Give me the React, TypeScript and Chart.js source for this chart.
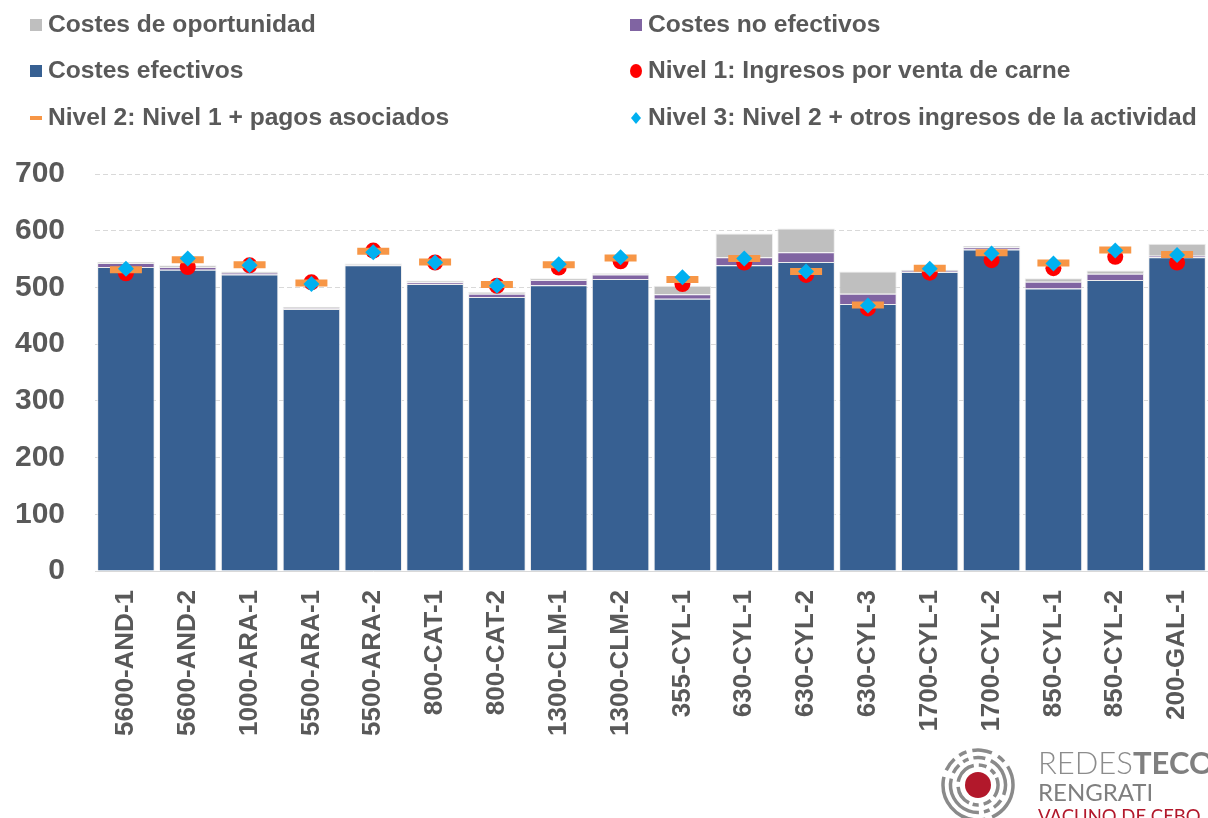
import React, { useEffect, useRef } from 'react';
import { Chart, registerables } from 'chart.js';

Chart.register(...registerables);

const categories = [
  '5600-AND-1', '5600-AND-2', '1000-ARA-1', '5500-ARA-1', '5500-ARA-2', '800-CAT-1',
  '800-CAT-2', '1300-CLM-1', '1300-CLM-2', '355-CYL-1', '630-CYL-1', '630-CYL-2',
  '630-CYL-3', '1700-CYL-1', '1700-CYL-2', '850-CYL-1', '850-CYL-2', '200-GAL-1',
];
const costesEfectivos = [536, 531, 523, 462, 539, 506, 483, 504, 515, 480, 539, 545, 471, 527, 567, 498, 513, 553];
const costesNoEfectivos = [7, 5, 3, 1, 1, 3, 6, 9, 8, 8, 14, 17, 18, 2, 4, 12, 11, 3];
const costesOportunidad = [2, 3, 2, 3, 2, 3, 3, 3, 2, 15, 42, 42, 39, 2, 2, 6, 6, 21];
const nivel1 = [525, 536, 539, 509, 565, 544, 503, 535, 546, 506, 544, 522, 463, 526, 548, 534, 554, 544];
const nivel2 = [531, 549, 540, 508, 564, 545, 505, 540, 552, 514, 551, 528, 469, 534, 561, 543, 566, 558];
const nivel3 = [533, 551, 539, 506, 562, 544, 503, 541, 553, 518, 551, 528, 468, 533, 560, 542, 565, 557];

const legendLabels = [
  'Costes de oportunidad',
  'Costes no efectivos',
  'Costes efectivos',
  'Nivel 1: Ingresos por venta de carne',
  'Nivel 2: Nivel 1 + pagos asociados',
  'Nivel 3: Nivel 2 + otros ingresos de la actividad',
];

const FONT = "'Liberation Sans', Arial, sans-serif";
const TEXT = '#595959';
const C_BLUE = '#376092';
const C_PURPLE = '#8064A2';
const C_GRAY = '#BFBFBF';
const C_RED = '#FF0000';
const C_ORANGE = '#F79646';
const C_CYAN = '#00B0F0';

function Marker({ kind }: { kind: string }) {
  const base: React.CSSProperties = { position: 'absolute' };
  if (kind === 'gray') return <div style={{ ...base, left: 0, top: 9, width: 12, height: 12, background: C_GRAY }} />;
  if (kind === 'purple') return <div style={{ ...base, left: 0, top: 9, width: 12, height: 12, background: C_PURPLE }} />;
  if (kind === 'blue') return <div style={{ ...base, left: 0, top: 9, width: 12, height: 12, background: C_BLUE }} />;
  if (kind === 'red') return <div style={{ ...base, left: 0, top: 8, width: 12, height: 14, borderRadius: '50%', background: C_RED }} />;
  if (kind === 'orange') return <div style={{ ...base, left: 0, top: 13, width: 12, height: 4, background: C_ORANGE }} />;
  return <div style={{ ...base, left: 1, top: 9, width: 10, height: 12, background: C_CYAN, clipPath: 'polygon(50% 0, 100% 50%, 50% 100%, 0 50%)' }} />;
}

function LegendItem({ x, yc, kind, label }: { x: number; yc: number; kind: string; label: string }) {
  return (
    <div style={{ position: 'absolute', left: x, top: yc - 15, height: 30, whiteSpace: 'nowrap' }}>
      <Marker kind={kind} />
      <span style={{ position: 'absolute', left: 18, top: 0, lineHeight: '30px', font: `bold 24.6px ${FONT}`, color: TEXT }}>{label}</span>
    </div>
  );
}

function Logo() {
  const cx = 48, cy = 45;
  const ring = (r: number, dash: string, w: number, rot: number) => (
    <circle cx={cx} cy={cy} r={r} fill="none" stroke="#8a8a8a" strokeWidth={w} strokeDasharray={dash} transform={`rotate(${rot} ${cx} ${cy})`} />
  );
  return (
    <div style={{ position: 'absolute', left: 930, top: 740, width: 278, height: 78, overflow: 'hidden' }}>
      <svg width={90} height={78} style={{ position: 'absolute', left: 0, top: 0 }}>
        <circle cx={cx} cy={cy} r={13} fill="#B2182B" />
        {ring(20, '20 5 8 5 6 4', 3.5, 200)}
        {ring(27.5, '40 6 10 5 6 5 12 6', 3.5, 110)}
        {ring(35, '60 7 14 6 8 6 20 7 8 6', 3.5, 95)}
      </svg>
      <div style={{ position: 'absolute', left: 108, top: 5, font: `300 31px Lato, 'Open Sans', sans-serif`, color: '#8c8c8c', lineHeight: '34px', whiteSpace: 'nowrap' }}>
        REDES<span style={{ fontWeight: 700, color: '#7f7f7f' }}>TECO</span>
      </div>
      <div style={{ position: 'absolute', left: 108, top: 39, font: `400 24px Lato, 'Open Sans', sans-serif`, color: '#7f7f7f', lineHeight: '26px', whiteSpace: 'nowrap' }}>
        RENGRATI
      </div>
      <div style={{ position: 'absolute', left: 108, top: 64, font: `400 18.5px Lato, 'Open Sans', sans-serif`, color: '#B2182B', lineHeight: '24px', whiteSpace: 'nowrap' }}>
        VACUNO DE CEBO
      </div>
    </div>
  );
}

export default function App() {
  const ref = useRef<HTMLCanvasElement>(null);
  useEffect(() => {
    const chart = new Chart(ref.current!, {
      type: 'bar',
      data: {
        labels: categories,
        datasets: [
          { label: legendLabels[2], data: costesEfectivos, backgroundColor: C_BLUE, borderColor: 'rgba(235,235,235,0.9)', borderWidth: 1, order: 4, barPercentage: 0.93, categoryPercentage: 1 } as any,
          { label: legendLabels[1], data: costesNoEfectivos, backgroundColor: C_PURPLE, borderColor: 'rgba(235,235,235,0.9)', borderWidth: 1, order: 4, barPercentage: 0.93, categoryPercentage: 1 } as any,
          { label: legendLabels[0], data: costesOportunidad, backgroundColor: C_GRAY, borderColor: 'rgba(235,235,235,0.9)', borderWidth: 1, order: 4, barPercentage: 0.93, categoryPercentage: 1 } as any,
          { type: 'line', label: legendLabels[3], data: nivel1, stack: 'n1', order: 3, showLine: false, pointStyle: 'circle', pointRadius: 8, pointBackgroundColor: C_RED, pointBorderColor: C_RED, pointBorderWidth: 0 } as any,
          { type: 'line', label: legendLabels[4], data: nivel2, stack: 'n2', order: 2, showLine: false, pointStyle: 'line', pointRadius: 16, pointBackgroundColor: C_ORANGE, pointBorderColor: C_ORANGE, pointBorderWidth: 7 } as any,
          { type: 'line', label: legendLabels[5], data: nivel3, stack: 'n3', order: 1, showLine: false, pointStyle: 'rectRot', pointRadius: 8, pointBackgroundColor: C_CYAN, pointBorderColor: C_CYAN, pointBorderWidth: 0 } as any,
        ],
      },
      options: {
        responsive: false,
        animation: false,
        layout: { autoPadding: false, padding: { top: 174, left: 15, right: 0, bottom: 0 } },
        plugins: { legend: { display: false }, tooltip: { enabled: false } },
        scales: {
          x: {
            stacked: true,
            grid: { display: false, drawTicks: false },
            border: { display: true, color: '#d9d9d9', width: 1 },
            ticks: { color: TEXT, font: { family: FONT, size: 26, weight: 'bold' }, minRotation: 90, maxRotation: 90, autoSkip: false, padding: 19 },
            afterFit: (scale: any) => { scale.height = 247; scale.paddingLeft = 0; scale.paddingRight = 0; },
          },
          y: {
            stacked: true,
            min: 0,
            max: 700,
            grid: { color: '#d9d9d9', lineWidth: 1, drawTicks: false },
            border: { display: false, dash: [5, 3] },
            ticks: { stepSize: 100, color: TEXT, font: { family: FONT, size: 30, weight: 'bold' }, padding: 30 },
            afterFit: (scale: any) => { scale.width = 80; },
          },
        },
      } as any,
    });
    return () => chart.destroy();
  }, []);

  return (
    <div style={{ position: 'fixed', left: 0, top: 0, width: 1208, height: 818, overflow: 'hidden', background: '#fff' }}>
      <canvas ref={ref} width={1208} height={818} style={{ position: 'absolute', left: 0, top: 0 }} />
      <LegendItem x={30} yc={25} kind="gray" label={legendLabels[0]} />
      <LegendItem x={630} yc={25} kind="purple" label={legendLabels[1]} />
      <LegendItem x={30} yc={71} kind="blue" label={legendLabels[2]} />
      <LegendItem x={630} yc={71} kind="red" label={legendLabels[3]} />
      <LegendItem x={30} yc={118} kind="orange" label={legendLabels[4]} />
      <LegendItem x={630} yc={118} kind="cyan" label={legendLabels[5]} />
      <Logo />
    </div>
  );
}
